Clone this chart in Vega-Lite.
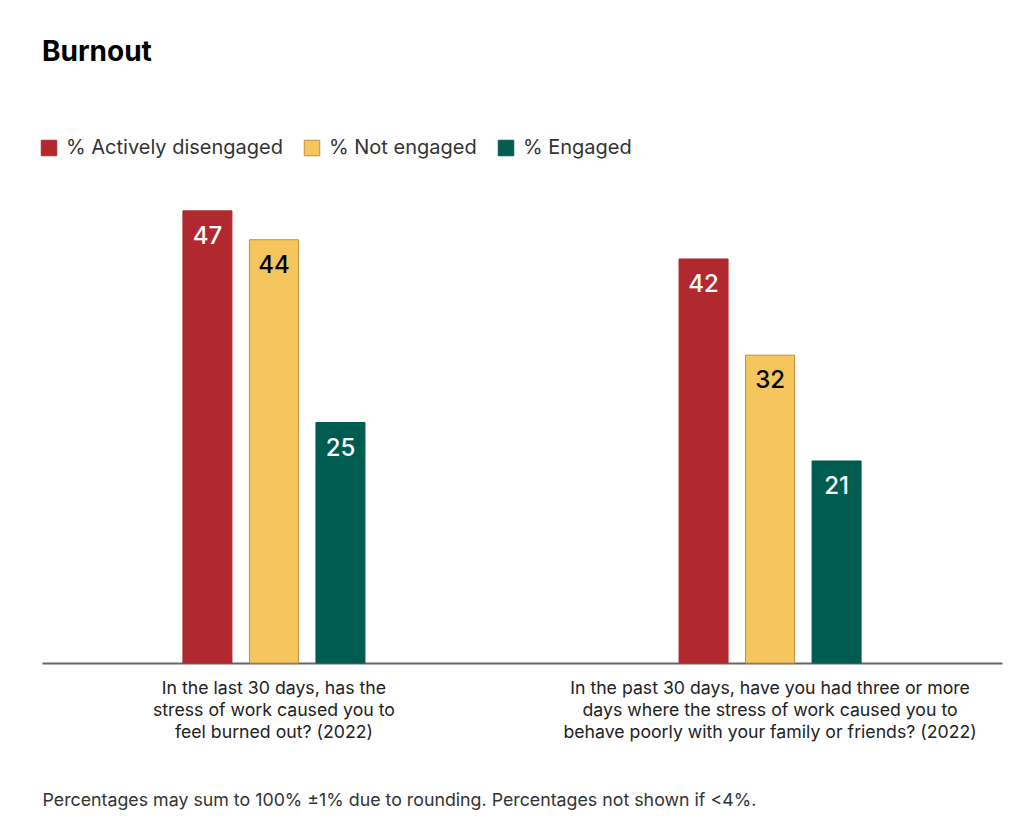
{
  "$schema": "https://vega.github.io/schema/vega-lite/v6.json",
  "width": 960,
  "height": 481,
  "autosize": {"type": "none"},
  "padding": {"left": 42, "top": 182, "right": 20, "bottom": 175},
  "background": "white",
  "title": {
    "text": "Burnout",
    "anchor": "start",
    "frame": "group",
    "fontSize": 28,
    "fontWeight": "bold",
    "font": "Inter",
    "color": "#000000",
    "offset": 71
  },
  "data": {
    "values": [
      {"question": "In the last 30 days, has the|stress of work caused you to|feel burned out? (2022)", "q": 1, "group": "% Actively disengaged", "g": 1, "value": 47},
      {"question": "In the last 30 days, has the|stress of work caused you to|feel burned out? (2022)", "q": 1, "group": "% Not engaged", "g": 2, "value": 44},
      {"question": "In the last 30 days, has the|stress of work caused you to|feel burned out? (2022)", "q": 1, "group": "% Engaged", "g": 3, "value": 25},
      {"question": "In the past 30 days, have you had three or more|days where the stress of work caused you to|behave poorly with your family or friends? (2022)", "q": 2, "group": "% Actively disengaged", "g": 1, "value": 42},
      {"question": "In the past 30 days, have you had three or more|days where the stress of work caused you to|behave poorly with your family or friends? (2022)", "q": 2, "group": "% Not engaged", "g": 2, "value": 32},
      {"question": "In the past 30 days, have you had three or more|days where the stress of work caused you to|behave poorly with your family or friends? (2022)", "q": 2, "group": "% Engaged", "g": 3, "value": 21}
    ]
  },
  "encoding": {
    "x": {
      "field": "question",
      "type": "nominal",
      "sort": {"field": "q"},
      "scale": {"paddingInner": 0.499, "paddingOuter": 0.217},
      "axis": {
        "title": "Percentages may sum to 100% ±1% due to rounding. Percentages not shown if <4%.",
        "titleFont": "Inter",
        "titleFontSize": 17.8,
        "titleFontWeight": "normal",
        "titleColor": "#333333",
        "titleAnchor": "start",
        "titleAlign": "left",
        "titleBaseline": "middle",
        "titleX": 0,
        "titleY": 137,
        "labelExpr": "split(datum.label, '|')",
        "labelAngle": 0,
        "labelFont": "Inter",
        "labelFontSize": 17.7,
        "labelColor": "#222222",
        "labelLineHeight": 22,
        "labelPadding": 16,
        "labelBaseline": "top",
        "labelLimit": 0,
        "ticks": false,
        "domainColor": "#666666",
        "domainWidth": 2,
        "grid": false
      }
    },
    "xOffset": {
      "field": "group",
      "type": "nominal",
      "sort": {"field": "g"},
      "scale": {"paddingInner": 0.263, "paddingOuter": 0.5}
    },
    "y": {
      "field": "value",
      "type": "quantitative",
      "scale": {"domain": [0, 50], "nice": false},
      "axis": null
    }
  },
  "layer": [
    {
      "mark": {"type": "bar", "strokeWidth": 1},
      "encoding": {
        "fill": {
          "field": "group",
          "type": "nominal",
          "sort": {"field": "g"},
          "scale": {
            "domain": ["% Actively disengaged", "% Not engaged", "% Engaged"],
            "range": ["#B1282E", "#F5C55E", "#005C50"]
          },
          "legend": {
            "title": null,
            "orient": "none",
            "legendX": -3,
            "legendY": -44,
            "direction": "horizontal",
            "symbolType": "square",
            "symbolSize": 240,
            "symbolStrokeWidth": 1,
            "labelFont": "Inter",
            "labelFontSize": 20,
            "labelColor": "#333333",
            "labelOffset": 7,
            "labelLimit": 0,
            "columnPadding": 19,
            "padding": 0
          }
        },
        "stroke": {
          "field": "group",
          "type": "nominal",
          "sort": {"field": "g"},
          "scale": {
            "domain": ["% Actively disengaged", "% Not engaged", "% Engaged"],
            "range": ["#B1282E", "#C0913D", "#005C50"]
          },
          "legend": {
            "title": null,
            "orient": "none",
            "legendX": -3,
            "legendY": -44,
            "direction": "horizontal",
            "symbolType": "square",
            "symbolSize": 240,
            "symbolStrokeWidth": 1,
            "labelFont": "Inter",
            "labelFontSize": 20,
            "labelColor": "#333333",
            "labelOffset": 7,
            "labelLimit": 0,
            "columnPadding": 19,
            "padding": 0
          }
        }
      }
    },
    {
      "mark": {"type": "text", "baseline": "middle", "dy": 26, "fontSize": 24, "font": "Inter", "fontWeight": 500},
      "encoding": {
        "text": {"field": "value", "type": "quantitative"},
        "color": {
          "condition": {"test": "datum.group === '% Not engaged'", "value": "#000000"},
          "value": "#FFFFFF"
        }
      }
    }
  ],
  "config": {"view": {"stroke": null}}
}
